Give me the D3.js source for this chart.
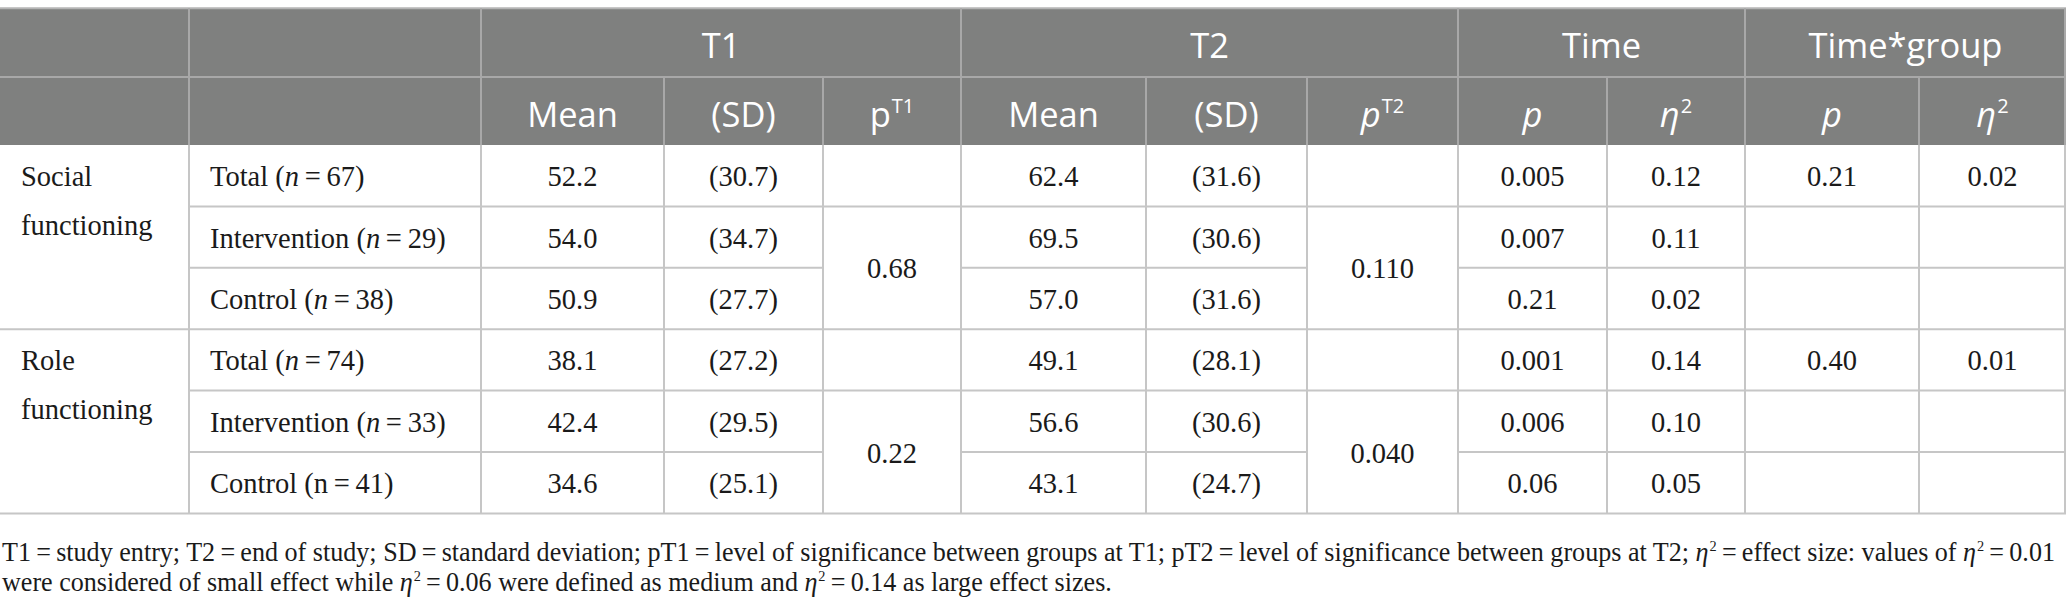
<!DOCTYPE html>
<html>
<head>
<meta charset="utf-8">
<script src="https://cdn.jsdelivr.net/npm/d3@7"></script>
<style>
  html, body { margin: 0; padding: 0; background: #ffffff; }
  svg { display: block; }
</style>
</head>
<body>
<svg id="chart" width="2067" height="607"></svg>
<script>
// ---------------- DATA ----------------
const categories = ["Social", "Role"];
const groupNames = ["Total", "Intervention", "Control"];
const groupN = [67, 29, 38, 74, 33, 41];
const nItalic = [true, true, true, true, true, false];
const t1Mean = ["52.2", "54.0", "50.9", "38.1", "42.4", "34.6"];
const t1SD = ["(30.7)", "(34.7)", "(27.7)", "(27.2)", "(29.5)", "(25.1)"];
const pT1 = ["0.68", "0.22"];
const t2Mean = ["62.4", "69.5", "57.0", "49.1", "56.6", "43.1"];
const t2SD = ["(31.6)", "(30.6)", "(31.6)", "(28.1)", "(30.6)", "(24.7)"];
const pT2 = ["0.110", "0.040"];
const timeP = ["0.005", "0.007", "0.21", "0.001", "0.006", "0.06"];
const timeEta = ["0.12", "0.11", "0.02", "0.14", "0.10", "0.05"];
const tgP = ["0.21", "0.40"];
const tgEta = ["0.02", "0.01"];
const topHeaders = ["", "", "T1", "T2", "Time", "Time*group"];

// ---------------- LAYOUT ----------------
const colWidths = [189, 292, 183, 159, 138, 185, 161, 151, 149, 138, 174, 147];
const colEdges = [0, ...d3.cumsum(colWidths)];
const x = i => colEdges[i];
const W = colEdges[colEdges.length - 1];
const topY = 8.3, h1 = 77, h2 = 145;
const rowH = 61.4;
const y = d3.scaleLinear().domain([0, 6]).range([h2, h2 + 6 * rowH]);

const svg = d3.select("#chart");
const HEADER_BG = "#7f807f";
const HEADER_LINE = "#a8a8a8";
const GRID = "#c6c6c6";
const TEXT = "#1a1a1a";
const sansFont = "'Open Sans', 'Noto Sans', sans-serif";
const serifFont = "'Liberation Serif', 'Times New Roman', serif";
const bodySize = 28.5;

svg.append("rect").attr("x", 0).attr("y", topY).attr("width", W).attr("height", h2 - topY).attr("fill", HEADER_BG);

// ---------------- GRID LINES ----------------
const lines = svg.append("g").attr("stroke-width", 2).attr("fill", "none");
function hline(x1, x2, yy, c) { lines.append("line").attr("x1", x1).attr("x2", x2).attr("y1", yy).attr("y2", yy).attr("stroke", c); }
function vline(xx, y1, y2, c) { lines.append("line").attr("x1", xx).attr("x2", xx).attr("y1", y1).attr("y2", y2).attr("stroke", c); }

hline(0, W, topY, "#b4b4b4");
hline(0, W, h1, HEADER_LINE);
const topSpans = [[0,1],[1,2],[2,5],[5,8],[8,10],[10,12]];
topSpans.forEach(s => { if (s[0] > 0) vline(x(s[0]), topY, h1, HEADER_LINE); });
for (let i = 1; i < colWidths.length; i++) vline(x(i), h1, h2, HEADER_LINE);
vline(W - 1, topY, h2, HEADER_LINE);

for (let i = 1; i < colWidths.length; i++) vline(x(i), h2, y(6), GRID);
vline(W - 1, h2, y(6), GRID);

for (let g = 0; g < 2; g++) {
  const r0 = g * 3;
  hline(x(1), W, y(r0 + 1), GRID);
  hline(x(1), x(4), y(r0 + 2), GRID);
  hline(x(5), x(7), y(r0 + 2), GRID);
  hline(x(8), W, y(r0 + 2), GRID);
}
hline(0, W, y(3), GRID);
hline(0, W, y(6), GRID);

// ---------------- HEADER TEXT ----------------
const hdr = svg.append("g").attr("fill", "#ffffff").attr("font-family", sansFont).attr("font-size", 34.5).attr("text-anchor", "middle");
topSpans.forEach((s, i) => {
  if (!topHeaders[i]) return;
  hdr.append("text").attr("x", (x(s[0]) + x(s[1])) / 2).attr("y", (topY + h1) / 2 + 15).text(topHeaders[i]);
});
const sub = [
  null, null,
  {t: "Mean"}, {t: "(SD)"}, {t: "p", sup: "T1", it: false},
  {t: "Mean"}, {t: "(SD)"}, {t: "p", sup: "T2", it: true},
  {t: "p", it: true}, {t: "\u03B7", sup: "2", it: true},
  {t: "p", it: true}, {t: "\u03B7", sup: "2", it: true}
];
sub.forEach((d, i) => {
  if (!d) return;
  const t = hdr.append("text").attr("x", (x(i) + x(i + 1)) / 2).attr("y", (h1 + h2) / 2 + 15.5);
  t.append("tspan").attr("font-style", d.it ? "italic" : "normal").text(d.t);
  if (d.sup) t.append("tspan").attr("font-size", 20).attr("dx", 1).attr("dy", -14).text(d.sup);
});

// ---------------- BODY TEXT ----------------
const body = svg.append("g").attr("fill", TEXT).attr("font-family", serifFont).attr("font-size", bodySize);
const pad = 21;
const base = r => (y(r) + y(r + 1)) / 2 + 10.5;

categories.forEach((c, g) => {
  const t = body.append("text").attr("x", x(0) + pad).attr("y", base(g * 3));
  t.append("tspan").attr("x", x(0) + pad).text(c);
  t.append("tspan").attr("x", x(0) + pad).attr("dy", 48.5).text("functioning");
});

for (let r = 0; r < 6; r++) {
  const t = body.append("text").attr("x", x(1) + pad).attr("y", base(r));
  t.append("tspan").text(groupNames[r % 3] + " (");
  t.append("tspan").attr("font-style", nItalic[r] ? "italic" : "normal").text("n");
  t.append("tspan").text("\u2009=\u2009" + groupN[r] + ")");
}

function centerCol(col, arr) {
  arr.forEach((v, r) => {
    body.append("text").attr("text-anchor", "middle").attr("x", (x(col) + x(col + 1)) / 2).attr("y", base(r)).text(v);
  });
}
centerCol(2, t1Mean);
centerCol(3, t1SD);
centerCol(5, t2Mean);
centerCol(6, t2SD);
centerCol(8, timeP);
centerCol(9, timeEta);

function mergedCol(col, arr) {
  arr.forEach((v, g) => {
    body.append("text").attr("text-anchor", "middle").attr("x", (x(col) + x(col + 1)) / 2).attr("y", y(g * 3 + 2) + 10.5).text(v);
  });
}
mergedCol(4, pT1);
mergedCol(7, pT2);

function totalCol(col, arr) {
  arr.forEach((v, g) => {
    body.append("text").attr("text-anchor", "middle").attr("x", (x(col) + x(col + 1)) / 2).attr("y", base(g * 3)).text(v);
  });
}
totalCol(10, tgP);
totalCol(11, tgEta);

// ---------------- FOOTNOTE ----------------
const eq = "\u2009=\u2009";
const foot1 = [
  {t: "T1" + eq + "study entry; T2" + eq + "end of study; SD" + eq + "standard deviation; pT1" + eq + "level of significance between groups at T1; pT2" + eq + "level of significance between groups at T2; "},
  {t: "\u03B7", it: true}, {t: "2", sup: true},
  {t: eq + "effect size: values of "},
  {t: "\u03B7", it: true}, {t: "2", sup: true},
  {t: eq + "0.01"}
];
const foot2 = [
  {t: "were considered of small effect while "},
  {t: "\u03B7", it: true}, {t: "2", sup: true},
  {t: eq + "0.06 were defined as medium and "},
  {t: "\u03B7", it: true}, {t: "2", sup: true},
  {t: eq + "0.14 as large effect sizes."}
];
const foot = svg.append("g").attr("fill", TEXT).attr("font-family", serifFont);
const fs = 28;
function footLine(parts, yy) {
  const t = foot.append("text").attr("x", 2).attr("y", yy).attr("font-size", fs);
  parts.forEach((p, i) => {
    const s = t.append("tspan").text(p.t);
    if (p.it) s.attr("font-style", "italic");
    if (p.sup) s.attr("font-size", fs * 0.55).attr("dx", 1).attr("dy", -fs * 0.36);
    else if (i > 0 && parts[i - 1].sup) s.attr("dy", fs * 0.36);
  });
  return t;
}
const l1 = footLine(foot1, 561);
const l2 = footLine(foot2, 591);
const ratio = 2053 / l1.node().getComputedTextLength();
const n2 = l2.node().getComputedTextLength();
l1.attr("textLength", 2053).attr("lengthAdjust", "spacingAndGlyphs");
l2.attr("textLength", n2 * ratio).attr("lengthAdjust", "spacingAndGlyphs");
</script>
</body>
</html>
